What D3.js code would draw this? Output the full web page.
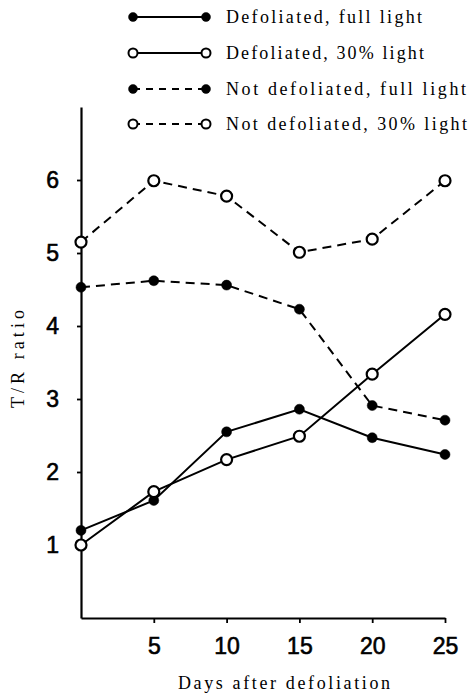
<!DOCTYPE html>
<html>
<head>
<meta charset="utf-8">
<script src="https://cdn.jsdelivr.net/npm/d3@7"></script>
<style>
  html, body { margin: 0; padding: 0; background: #fff; }
  svg { display: block; }
</style>
</head>
<body>
<div id="chart"></div>
<script>
// T/R ratio after defoliation.
var days = [0, 5, 10, 15, 20, 25];

var defolFull   = [1.20, 1.61, 2.55, 2.86, 2.47, 2.24];
var defol30     = [1.00, 1.73, 2.17, 2.49, 3.34, 4.16];
var notDefFull  = [4.53, 4.62, 4.56, 4.23, 2.91, 2.71];
var notDef30    = [5.15, 5.99, 5.78, 5.01, 5.19, 5.99];

var seriesNames = [
  "Defoliated, full light",
  "Defoliated, 30% light",
  "Not defoliated, full light",
  "Not defoliated, 30% light"
];

var xTicks = [5, 10, 15, 20, 25];
var yTicks = [1, 2, 3, 4, 5, 6];

var W = 469, H = 694;

// filled = closed dots, dashed = not defoliated
var series = [
  {name: seriesNames[0], values: defolFull,  filled: true,  dashed: false},
  {name: seriesNames[1], values: defol30,    filled: false, dashed: false},
  {name: seriesNames[2], values: notDefFull, filled: true,  dashed: true},
  {name: seriesNames[3], values: notDef30,   filled: false, dashed: true}
];

var svg = d3.select('#chart').append('svg')
  .attr('width', W)
  .attr('height', H);

var x = d3.scaleLinear().domain([0, 25]).range([81, 445]);
var y = d3.scaleLinear().domain([0, 7]).range([618, 107]);

var numFont = '"Liberation Sans", Arial, sans-serif';
var txtFont = '"Liberation Serif", "Times New Roman", serif';

// axes
var yAxis = svg.append('g')
  .attr('transform', 'translate(' + x(0) + ',0)')
  .call(d3.axisLeft(y).tickValues(yTicks).tickFormat(d3.format('d'))
    .tickSize(4).tickSizeOuter(0).tickPadding(18));

var xAxis = svg.append('g')
  .attr('transform', 'translate(0,' + y(0) + ')')
  .call(d3.axisBottom(x).tickValues(xTicks).tickFormat(d3.format('d'))
    .tickSize(5).tickSizeOuter(0).tickPadding(15));

[yAxis, xAxis].forEach(function(ax){
  ax.select('.domain').attr('stroke', '#000').attr('stroke-width', 2.2);
  ax.selectAll('.tick line').attr('stroke', '#000').attr('stroke-width', 1.8);
  ax.selectAll('.tick text')
    .attr('fill', '#000')
    .attr('stroke', '#000')
    .attr('stroke-width', 0.6)
    .style('font-family', numFont)
    .style('font-size', '23px');
});

// lines
var line = d3.line()
  .x(function(d, i){ return x(days[i]); })
  .y(function(d){ return y(d); });

series.forEach(function(s){
  svg.append('path')
    .datum(s.values)
    .attr('d', line)
    .attr('fill', 'none')
    .attr('stroke', '#000')
    .attr('stroke-width', 2)
    .attr('stroke-dasharray', s.dashed ? '9,6' : null);
});

// markers drawn after all lines so open circles sit on top
series.forEach(function(s){
  svg.append('g').selectAll('circle')
    .data(s.values)
    .join('circle')
    .attr('cx', function(d, i){ return x(days[i]); })
    .attr('cy', function(d){ return y(d); })
    .attr('r', s.filled ? 5 : 5.5)
    .attr('fill', s.filled ? '#000' : '#fff')
    .attr('stroke', '#000')
    .attr('stroke-width', s.filled ? 0.5 : 2.2);
});

// legend
var legRows = [17, 53, 89, 124];
var legWidths = [196, 198, 240, 241];
var legX1 = 133, legX2 = 206, legText = 226;

series.forEach(function(s, i){
  var g = svg.append('g').attr('transform', 'translate(0,' + legRows[i] + ')');
  g.append('line')
    .attr('x1', legX1).attr('x2', legX2)
    .attr('stroke', '#000')
    .attr('stroke-width', 2)
    .attr('stroke-dasharray', s.dashed ? '7,6' : null);
  [legX1, legX2].forEach(function(cx){
    g.append('circle')
      .attr('cx', cx)
      .attr('r', 4.5)
      .attr('fill', s.filled ? '#000' : '#fff')
      .attr('stroke', '#000')
      .attr('stroke-width', s.filled ? 0.5 : 2);
  });
  g.append('text')
    .attr('x', legText)
    .attr('dy', '0.32em')
    .attr('textLength', legWidths[i])
    .attr('lengthAdjust', 'spacing')
    .style('font-family', txtFont)
    .style('font-size', '18px')
    .text(s.name);
});

// axis titles
svg.append('text')
  .attr('transform', 'translate(18,359) rotate(-90)')
  .attr('text-anchor', 'middle')
  .attr('dy', '0.32em')
  .attr('textLength', 98)
  .attr('lengthAdjust', 'spacing')
  .style('font-family', txtFont)
  .style('font-size', '18px')
  .text('T/R ratio');

svg.append('text')
  .attr('x', 178)
  .attr('y', 689)
  .attr('textLength', 212)
  .attr('lengthAdjust', 'spacing')
  .style('font-family', txtFont)
  .style('font-size', '18px')
  .text('Days after defoliation');
</script>
</body>
</html>
